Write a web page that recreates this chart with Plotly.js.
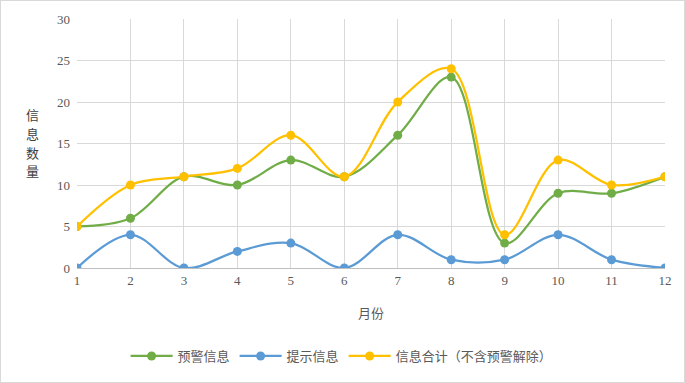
<!DOCTYPE html>
<html><head><meta charset="utf-8">
<script src="https://cdn.plot.ly/plotly-3.0.1.min.js"></script>
<style>
html,body{margin:0;padding:0;background:#fff;}
#chart{width:683px;height:381px;border:1px solid #d9d9d9;}
</style></head>
<body><div id="chart"></div>
<script>
const months = [1,2,3,4,5,6,7,8,9,10,11,12];
const warningInfo = [5,6,11,10,13,11,16,23,3,9,9,11];
const promptInfo = [0,4,0,2,3,0,4,1,1,4,1,0];
const totalInfo = [5,10,11,12,16,11,20,24,4,13,10,11];
const seriesNames = ['预警信息','提示信息','信息合计（不含预警解除）'];
const colors = ['#70AD47','#5B9BD5','#FFC000'];
const ticks = [0,5,10,15,20,25,30];
const yTitleChars = ['信','息','数','量'];

const cjk = '"Noto Sans CJK SC", "Noto Sans", sans-serif';
const serif = '"Liberation Serif", "DejaVu Serif", serif';

const mk = (y, i) => ({
  x: months, y: y, name: seriesNames[i], type: 'scatter', mode: 'lines+markers',
  line: {color: colors[i], width: 2.25, shape: 'spline', smoothing: 1},
  marker: {color: colors[i], size: 9}
});
const data = [mk(warningInfo,0), mk(promptInfo,1), mk(totalInfo,2)];

const layout = {
  width: 683, height: 381,
  margin: {l: 76, r: 19, t: 18, b: 113},
  paper_bgcolor: '#fff', plot_bgcolor: '#fff',
  showlegend: true,
  legend: {orientation: 'h', x: 0.45, xanchor: 'center', y: -0.348, yanchor: 'middle',
    font: {family: cjk, size: 13, color: '#595959'}, itemwidth: 42, tracegroupgap: 0},
  xaxis: {range: [1, 12], tickvals: months, ticktext: months.map(String),
    showgrid: true, gridcolor: '#d9d9d9', gridwidth: 1, zeroline: false,
    showline: true, linecolor: '#bfbfbf', linewidth: 1, ticks: '',
    tickfont: {family: serif, size: 13, color: '#595959'},
    title: {text: '月份', font: {family: cjk, size: 13, color: '#595959'}, standoff: 22}},
  yaxis: {range: [0, 30], tickvals: ticks, showgrid: true, gridcolor: '#d9d9d9', gridwidth: 1,
    zeroline: false, showline: false, ticks: '', ticklabelstandoff: 6,
    tickfont: {family: serif, size: 13, color: '#595959'}},
  annotations: yTitleChars.map((c, i) => ({text: c, xref: 'paper', yref: 'paper',
    x: -0.075, y: 0.615 - i * 0.075, xanchor: 'center', yanchor: 'middle', showarrow: false,
    font: {family: cjk, size: 13, color: '#404040'}}))
};
Plotly.newPlot('chart', data, layout, {displayModeBar: false, staticPlot: true});
</script></body></html>
